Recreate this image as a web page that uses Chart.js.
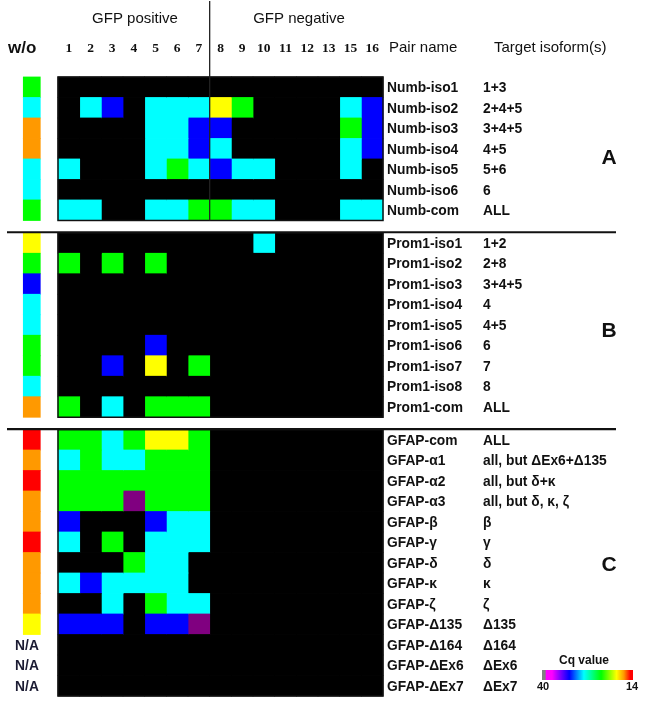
<!DOCTYPE html>
<html>
<head>
<meta charset="utf-8">
<script src="https://cdn.jsdelivr.net/npm/chart.js@4.4.0/dist/chart.umd.min.js"></script>
<style>
  html, body { margin: 0; padding: 0; background: #fff; }
  #wrap { width: 645px; height: 701px; }
</style>
</head>
<body>
<div id="wrap"><canvas id="heatmap"></canvas></div>
<script>
// Cq values; null = not detected (black)
const _ = null;
const columns = ['1', '2', '3', '4', '5', '6', '7', '8', '9', '10', '11', '12', '13', '15', '16'];
const positiveCount = 7;

const numbPairs = ['Numb-iso1', 'Numb-iso2', 'Numb-iso3', 'Numb-iso4', 'Numb-iso5', 'Numb-iso6', 'Numb-com'];
const numbTargets = ['1+3', '2+4+5', '3+4+5', '4+5', '5+6', '6', 'ALL'];
const numbWo = [23, 28, 17, 17, 28, 28, 23];
const numbCq = [
    [_, _, _, _, _, _, _, _, _, _, _, _, _, _, _],
    [_, 28, 32, _, 28, 28, 28, 19, 23, _, _, _, _, 28, 32],
    [_, _, _, _, 28, 28, 32, 32, _, _, _, _, _, 23, 32],
    [_, _, _, _, 28, 28, 32, 28, _, _, _, _, _, 28, 32],
    [28, _, _, _, 28, 23, 28, 32, 28, 28, _, _, _, 28, _],
    [_, _, _, _, _, _, _, _, _, _, _, _, _, _, _],
    [28, 28, _, _, 28, 28, 23, 23, 28, 28, _, _, _, 28, 28]
];

const prom1Pairs = ['Prom1-iso1', 'Prom1-iso2', 'Prom1-iso3', 'Prom1-iso4', 'Prom1-iso5', 'Prom1-iso6', 'Prom1-iso7', 'Prom1-iso8', 'Prom1-com'];
const prom1Targets = ['1+2', '2+8', '3+4+5', '4', '4+5', '6', '7', '8', 'ALL'];
const prom1Wo = [19, 23, 32, 28, 28, 23, 23, 28, 17];
const prom1Cq = [
    [_, _, _, _, _, _, _, _, _, 28, _, _, _, _, _],
    [23, _, 23, _, 23, _, _, _, _, _, _, _, _, _, _],
    [_, _, _, _, _, _, _, _, _, _, _, _, _, _, _],
    [_, _, _, _, _, _, _, _, _, _, _, _, _, _, _],
    [_, _, _, _, _, _, _, _, _, _, _, _, _, _, _],
    [_, _, _, _, 32, _, _, _, _, _, _, _, _, _, _],
    [_, _, 32, _, 19, _, 23, _, _, _, _, _, _, _, _],
    [_, _, _, _, _, _, _, _, _, _, _, _, _, _, _],
    [23, _, 28, _, 23, 23, 23, _, _, _, _, _, _, _, _]
];

const gfapPairs = ['GFAP-com', 'GFAP-α1', 'GFAP-α2', 'GFAP-α3', 'GFAP-β', 'GFAP-γ', 'GFAP-δ', 'GFAP-κ', 'GFAP-ζ', 'GFAP-Δ135', 'GFAP-Δ164', 'GFAP-ΔEx6', 'GFAP-ΔEx7'];
const gfapTargets = ['ALL', 'all, but ΔEx6+Δ135', 'all, but δ+κ', 'all, but δ, κ, ζ', 'β', 'γ', 'δ', 'κ', 'ζ', 'Δ135', 'Δ164', 'ΔEx6', 'ΔEx7'];
const gfapWo = [15, 17, 15, 17, 17, 15, 17, 17, 17, 19, _, _, _];
const gfapCq = [
    [23, 23, 28, 23, 19, 19, 23, _, _, _, _, _, _, _, _],
    [28, 23, 28, 28, 23, 23, 23, _, _, _, _, _, _, _, _],
    [23, 23, 23, 23, 23, 23, 23, _, _, _, _, _, _, _, _],
    [23, 23, 23, 35, 23, 23, 23, _, _, _, _, _, _, _, _],
    [32, _, _, _, 32, 28, 28, _, _, _, _, _, _, _, _],
    [28, _, 23, _, 28, 28, 28, _, _, _, _, _, _, _, _],
    [_, _, _, 23, 28, 28, _, _, _, _, _, _, _, _, _],
    [28, 32, 28, 28, 28, 28, _, _, _, _, _, _, _, _, _],
    [_, _, 28, _, 23, 28, 28, _, _, _, _, _, _, _, _],
    [32, 32, 32, _, 32, 32, 35, _, _, _, _, _, _, _, _],
    [_, _, _, _, _, _, _, _, _, _, _, _, _, _, _],
    [_, _, _, _, _, _, _, _, _, _, _, _, _, _, _],
    [_, _, _, _, _, _, _, _, _, _, _, _, _, _, _]
];

const panels = [
    { letter: 'A', letterRow: 3.95, pairs: numbPairs, targets: numbTargets, wo: numbWo, cq: numbCq },
    { letter: 'B', letterRow: 4.8, pairs: prom1Pairs, targets: prom1Targets, wo: prom1Wo, cq: prom1Cq },
    { letter: 'C', letterRow: 6.6, pairs: gfapPairs, targets: gfapTargets, wo: gfapWo, cq: gfapCq }
];

const panelGap = 0.6;
const woSpan = [-1.6, -0.82];

function cqColor(v) {
    if (v === null) return '#000000';
    if (v >= 34) return '#800080';
    if (v >= 30) return '#0000ff';
    if (v >= 26) return '#00ffff';
    if (v >= 21) return '#00ff00';
    if (v >= 18) return '#ffff00';
    if (v >= 16) return '#ff9900';
    return '#ff0000';
}

// lay rows out on a linear y scale, with a small gap between panels
const rows = [];
let offset = 0;
panels.forEach(p => {
    p.start = offset;
    p.pairs.forEach((name, i) => {
        rows.push({ y: offset + i + 0.5, name, target: p.targets[i], wo: p.wo[i], cq: p.cq[i] });
    });
    p.end = offset + p.pairs.length;
    offset = p.end + panelGap;
});
const yMax = panels[panels.length - 1].end;

const barStyle = { grouped: false, categoryPercentage: 1, barPercentage: 1, borderWidth: 0, inflateAmount: 0.4, clip: false };

const datasets = columns.map((col, c) => ({
    label: col,
    data: rows.map(r => ({ x: [c, c + 1], y: r.y })),
    backgroundColor: rows.map(r => cqColor(r.cq[c])),
    ...barStyle
}));
const woRows = rows.filter(r => r.wo !== null);
datasets.push({
    label: 'w/o',
    data: woRows.map(r => ({ x: woSpan, y: r.y })),
    backgroundColor: woRows.map(r => cqColor(r.wo)),
    ...barStyle
});

const SANS = '"Liberation Sans", Arial, sans-serif';
const SERIF = '"Liberation Serif", "Times New Roman", serif';

const decorations = {
    id: 'decorations',
    afterDatasetsDraw(chart) {
        const ctx = chart.ctx;
        const xs = chart.scales.x;
        const ys = chart.scales.y;
        ctx.save();

        // panel borders and separators
        ctx.strokeStyle = '#111';
        panels.forEach((p, i) => {
            ctx.lineWidth = 1.5;
            ctx.strokeRect(xs.getPixelForValue(0), ys.getPixelForValue(p.start),
                xs.getPixelForValue(columns.length) - xs.getPixelForValue(0),
                ys.getPixelForValue(p.end) - ys.getPixelForValue(p.start));
            if (i > 0) {
                const yy = ys.getPixelForValue(p.start) - 0.5;
                ctx.lineWidth = 2.2;
                ctx.beginPath();
                ctx.moveTo(7, yy);
                ctx.lineTo(616, yy);
                ctx.stroke();
            }
        });

        // GFP positive / negative divider
        const xDiv = xs.getPixelForValue(positiveCount);
        ctx.lineWidth = 1.3;
        ctx.strokeStyle = '#222';
        ctx.beginPath();
        ctx.moveTo(xDiv, 1);
        ctx.lineTo(xDiv, ys.getPixelForValue(panels[0].end));
        ctx.stroke();

        ctx.fillStyle = '#111';
        ctx.textBaseline = 'middle';

        // headers
        ctx.textAlign = 'center';
        ctx.font = '15px ' + SANS;
        ctx.fillText('GFP positive', 135, 19);
        ctx.fillText('GFP negative', 299, 19);
        ctx.textAlign = 'left';
        ctx.fillText('Pair name', 389, 48);
        ctx.fillText('Target isoform(s)', 494, 48);
        ctx.font = 'bold 17px ' + SANS;
        ctx.fillText('w/o', 8, 48);

        ctx.textAlign = 'center';
        ctx.font = 'bold 13.5px ' + SERIF;
        columns.forEach((col, c) => {
            ctx.fillText(col, xs.getPixelForValue(c + 0.5), 49);
        });

        // row labels
        ctx.font = 'bold 13.8px ' + SANS;
        rows.forEach(r => {
            const yy = ys.getPixelForValue(r.y) + 1;
            ctx.textAlign = 'left';
            ctx.fillText(r.name, 387, yy);
            ctx.fillText(r.target, 483, yy);
            if (r.wo === null) {
                ctx.textAlign = 'center';
                ctx.fillStyle = '#1c1c33';
                ctx.fillText('N/A', 27, yy);
                ctx.fillStyle = '#111';
            }
        });

        // panel letters
        ctx.textAlign = 'center';
        ctx.font = 'bold 21px ' + SANS;
        panels.forEach(p => {
            ctx.fillText(p.letter, 609, ys.getPixelForValue(p.start + p.letterRow));
        });

        // Cq colour bar
        const bx0 = 542, bx1 = 633, by = 670, bh = 10;
        const grad = ctx.createLinearGradient(bx0, 0, bx1, 0);
        grad.addColorStop(0, '#808080');
        grad.addColorStop(0.035, '#808080');
        grad.addColorStop(0.045, '#ff00ff');
        grad.addColorStop(0.11, '#ff00ff');
        grad.addColorStop(0.2, '#8000ff');
        grad.addColorStop(0.3, '#0000ff');
        grad.addColorStop(0.46, '#00ffff');
        grad.addColorStop(0.65, '#00ff00');
        grad.addColorStop(0.82, '#ffff00');
        grad.addColorStop(0.9, '#ff9900');
        grad.addColorStop(0.97, '#ff0000');
        grad.addColorStop(1, '#ff0000');
        ctx.fillStyle = grad;
        ctx.fillRect(bx0, by, bx1 - bx0, bh);

        ctx.fillStyle = '#111';
        ctx.font = 'bold 12px ' + SANS;
        ctx.fillText('Cq value', 584, 661);
        ctx.font = 'bold 11px ' + SANS;
        ctx.fillText('40', 543, 687);
        ctx.fillText('14', 632, 687);

        ctx.restore();
    }
};

new Chart(document.getElementById('heatmap'), {
    type: 'bar',
    data: { datasets },
    options: {
        indexAxis: 'y',
        responsive: true,
        maintainAspectRatio: false,
        animation: false,
        events: [],
        layout: { padding: { left: 58, right: 262, top: 77, bottom: 5 } },
        scales: {
            x: { type: 'linear', min: 0, max: columns.length, display: false },
            y: {
                type: 'linear', min: 0, max: yMax, reverse: true, display: false,
                bounds: 'data', offset: false, grace: 0, ticks: { stepSize: 10 }
            }
        },
        plugins: {
            legend: { display: false },
            tooltip: { enabled: false }
        }
    },
    plugins: [decorations]
});
</script>
</body>
</html>
